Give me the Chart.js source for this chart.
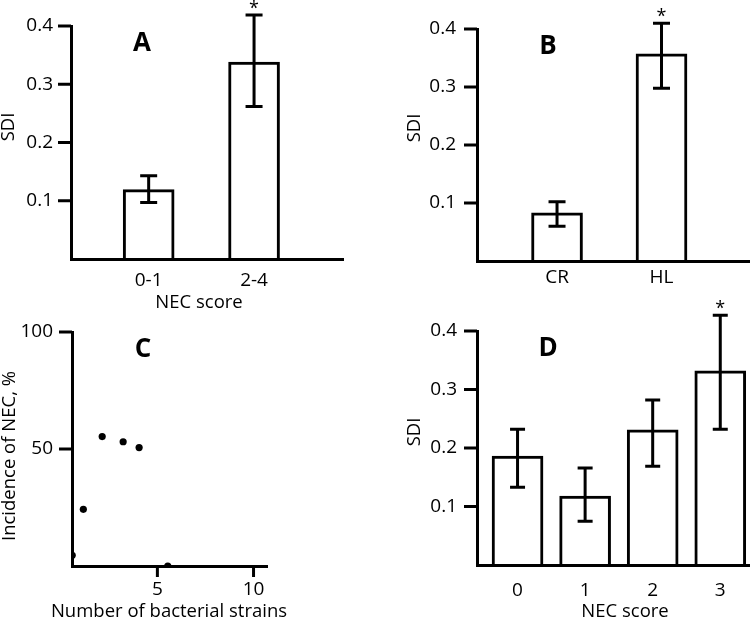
<!DOCTYPE html>
<html>
<head>
<meta charset="utf-8">
<script src="https://cdn.jsdelivr.net/npm/chart.js@4/dist/chart.umd.min.js"></script>
<style>
  html, body { margin: 0; padding: 0; background: #fff; }
  #page { position: relative; width: 750px; height: 620px; overflow: hidden; background: #fff; }
  canvas { position: absolute; }
</style>
</head>
<body>
<div id="page">
  <canvas id="panelA"></canvas>
  <canvas id="panelB"></canvas>
  <canvas id="panelC"></canvas>
  <canvas id="panelD"></canvas>
</div>
<script>
// Data

// A: SDI by NEC score group
const catsA = ['0-1', '2-4'];
const sdiA = [0.119, 0.338];
const lowA = [0.097, 0.262];
const highA = [0.143, 0.419];
const starA = [false, true];

// B: SDI by group
const catsB = ['CR', 'HL'];
const sdiB = [0.083, 0.357];
const lowB = [0.060, 0.298];
const highB = [0.102, 0.410];
const starB = [false, true];

// C: incidence of NEC vs number of bacterial strains
const strainsC = [0.57, 1.15, 2.13, 3.22, 4.05, 5.54];
const necC = [4.6, 24.2, 55.3, 53.1, 50.6, 0];

// D: SDI by NEC score
const catsD = ['0', '1', '2', '3'];
const sdiD = [0.186, 0.118, 0.231, 0.332];
const lowD = [0.133, 0.075, 0.169, 0.232];
const highD = [0.232, 0.166, 0.282, 0.427];
const starD = [false, false, false, true];

// tick labels
const sdiTicks = [0.1, 0.2, 0.3, 0.4];
const necTicks = [50, 100];
const strainTicks = [5, 10];

const ink = '#000';
const fam = "'Open Sans', sans-serif";


// Axis ticks and labels, error bars, stars, panel letters and titles.
// Everything is placed with the chart's own scales.

const panelDecor = {
  id: 'panelDecor',
  afterDraw(chart, args, o) {
    const ctx = chart.ctx;
    const a = chart.chartArea;
    const xs = chart.scales.x;
    const ys = chart.scales.y;
    ctx.save();
    ctx.fillStyle = ink;
    ctx.lineWidth = 3;

    // y tick marks and labels
    ctx.font = '19px ' + fam;
    ctx.textAlign = 'right';
    ctx.textBaseline = 'middle';
    ys.ticks.forEach(function (t) {
      var y = ys.getPixelForValue(t.value);
      ctx.strokeStyle = ink;
      ctx.beginPath();
      ctx.moveTo(a.left - 13, y);
      ctx.lineTo(a.left, y);
      ctx.stroke();
      ctx.fillText(String(t.value), a.left - o.yLabGap, y);
    });

    // x tick marks and labels
    ctx.textAlign = 'center';
    xs.ticks.forEach(function (t) {
      var x = xs.getPixelForValue(t.value);
      if (o.xTickMarks) {
        ctx.strokeStyle = ink;
        ctx.beginPath();
        ctx.moveTo(x, a.bottom);
        ctx.lineTo(x, a.bottom + 11);
        ctx.stroke();
      }
      ctx.fillText(o.xCats ? o.xCats[t.value] : String(t.value), x, a.bottom + o.xLabDy);
    });

    // error bars + significance stars
    if (o.low) {
      ctx.strokeStyle = ink;
      for (var i = 0; i < o.low.length; i++) {
        var px = xs.getPixelForValue(i);
        var yl = ys.getPixelForValue(o.low[i]);
        var yh = ys.getPixelForValue(o.high[i]);
        var c = o.cap;
        ctx.beginPath();
        ctx.moveTo(px, yl); ctx.lineTo(px, yh);
        ctx.moveTo(px - c, yl); ctx.lineTo(px + c, yl);
        ctx.moveTo(px - c, yh); ctx.lineTo(px + c, yh);
        ctx.stroke();
        if (o.stars && o.stars[i]) {
          ctx.font = '18px ' + fam;
          ctx.textBaseline = 'alphabetic';
          ctx.fillText('*', px, yh - 1);
          ctx.textBaseline = 'middle';
        }
      }
    }

    // x title
    ctx.font = '18.5px ' + fam;
    if (o.xTitle) ctx.fillText(o.xTitle, a.left + o.xTitleDx, a.bottom + o.xTitleDy);

    // panel letter
    ctx.font = 'bold 26px ' + fam;
    ctx.fillText(o.letter, a.left + 71, a.top + 18);

    // y title
    ctx.font = '18.5px ' + fam;
    ctx.translate(a.left - 62, a.top + o.yTitleDy);
    ctx.rotate(-Math.PI / 2);
    ctx.fillText(o.yTitle, 0, 0);
    ctx.restore();
  }
};


function makePanel(id, box, area, type, datasets, xOpts, yOpts, decor) {
  const cv = document.getElementById(id);
  cv.width = box.w;
  cv.height = box.h;
  cv.style.left = box.x + 'px';
  cv.style.top = box.y + 'px';
  cv.style.width = box.w + 'px';
  cv.style.height = box.h + 'px';

  const leftW = area.l - box.x;
  const bottomH = box.y + box.h - area.b;
  const axisLine = { display: true, color: ink, width: 3, z: 1 };

  return new Chart(cv, {
    type: type,
    data: { datasets: datasets },
    plugins: [panelDecor],
    options: {
      responsive: false,
      animation: false,
      devicePixelRatio: 1,
      layout: {
        padding: { left: 0, bottom: 0, top: area.t - box.y, right: box.x + box.w - area.r }
      },
      plugins: {
        legend: { display: false },
        tooltip: { enabled: false },
        panelDecor: decor
      },
      scales: {
        x: Object.assign({
          type: 'linear',
          offset: false,
          border: axisLine,
          grid: { display: false, offset: false },
          ticks: { display: false },
          afterFit: function (s) { s.height = bottomH; }
        }, xOpts),
        y: Object.assign({
          type: 'linear',
          border: axisLine,
          grid: { display: false },
          ticks: { display: false },
          afterFit: function (s) { s.width = leftW; }
        }, yOpts)
      }
    }
  });
}

function barData(vals) {
  return [{
    data: vals.map(function (v, i) { return { x: i, y: v }; }),
    backgroundColor: '#fff',
    borderColor: ink,
    borderWidth: 3,
    borderSkipped: 'start',
    barThickness: 51
  }];
}

function catX(cats, min, max) {
  return {
    min: min,
    max: max,
    afterBuildTicks: function (s) { s.ticks = cats.map(function (c, i) { return { value: i }; }); }
  };
}

function fixedTicks(min, max, list) {
  return {
    min: min,
    max: max,
    afterBuildTicks: function (s) { s.ticks = list.map(function (v) { return { value: v }; }); }
  };
}

// A
makePanel('panelA',
  { x: 0, y: 0, w: 375, h: 310 },
  { l: 71, t: 26, r: 343, b: 259 },
  'bar', barData(sdiA),
  catX(catsA, -0.737, 1.844),
  fixedTicks(0, 0.4, sdiTicks),
  { low: lowA, high: highA, stars: starA, cap: 8.5, letter: 'A',
    xCats: catsA, xLabDy: 22, xTitle: 'NEC score', xTitleDx: 128, xTitleDy: 44,
    yLabGap: 18, yTitle: 'SDI', yTitleDy: 101 });

// B
makePanel('panelB',
  { x: 375, y: 0, w: 375, h: 310 },
  { l: 477, t: 29, r: 750, b: 261 },
  'bar', barData(sdiB),
  catX(catsB, -0.766, 1.847),
  fixedTicks(0, 0.4, sdiTicks),
  { low: lowB, high: highB, stars: starB, cap: 8.5, letter: 'B',
    xCats: catsB, xLabDy: 17, xTitle: null,
    yLabGap: 21, yTitle: 'SDI', yTitleDy: 99 });

// C
makePanel('panelC',
  { x: 0, y: 310, w: 375, h: 310 },
  { l: 72, t: 332, r: 267, b: 566 },
  'scatter',
  [{
    data: strainsC.map(function (v, i) { return { x: v, y: necC[i] }; }),
    backgroundColor: ink,
    borderColor: ink,
    pointRadius: 3.6,
    pointBorderWidth: 0
  }],
  fixedTicks(0.56, 10.7, strainTicks),
  fixedTicks(0, 100, necTicks),
  { letter: 'C', xTickMarks: true, xLabDy: 24,
    xTitle: 'Number of bacterial strains', xTitleDx: 97, xTitleDy: 46,
    yLabGap: 19, yTitle: 'Incidence of NEC, %', yTitleDy: 124 });

// D
makePanel('panelD',
  { x: 375, y: 290, w: 375, h: 330 },
  { l: 477, t: 331, r: 750, b: 565 },
  'bar', barData(sdiD),
  catX(catsD, -0.6, 3.44),
  fixedTicks(0, 0.4, sdiTicks),
  { low: lowD, high: highD, stars: starD, cap: 7.5, letter: 'D',
    xCats: catsD, xLabDy: 26, xTitle: 'NEC score', xTitleDx: 148, xTitleDy: 47,
    yLabGap: 20, yTitle: 'SDI', yTitleDy: 101 });
</script>
</body>
</html>
